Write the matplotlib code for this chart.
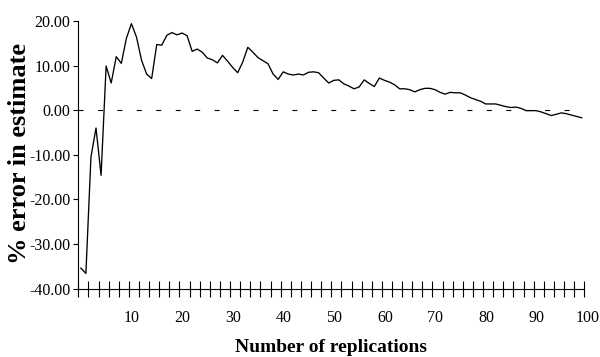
import matplotlib
matplotlib.use('Agg')
import matplotlib.pyplot as plt #visualização de dados
import matplotlib.transforms as transforms
import numpy as np

# dados
replicacoes = list(range(1, 101))
erro_percentual = [
    -35.4, -36.6, -10.5, -4.0, -14.6, 9.9, 6.1, 12.0, 10.5, 16.1,
    19.4, 16.4, 11.2, 8.1, 7.1, 14.7, 14.6, 16.8, 17.4, 16.9,
    17.3, 16.7, 13.2, 13.7, 13.0, 11.7, 11.3, 10.6, 12.3, 11.0,
    9.6, 8.4, 10.8, 14.1, 13.0, 11.8, 11.1, 10.4, 8.1, 6.9,
    8.6, 8.1, 7.9, 8.1, 7.9, 8.5, 8.6, 8.4, 7.2, 6.1,
    6.7, 6.8, 5.9, 5.4, 4.8, 5.2, 6.8, 6.0, 5.3, 7.2,
    6.7, 6.3, 5.7, 4.8, 4.8, 4.6, 4.1, 4.6, 4.9, 4.9,
    4.6, 4.0, 3.6, 4.0, 3.9, 3.9, 3.4, 2.8, 2.4, 2.0,
    1.4, 1.4, 1.4, 1.1, 0.8, 0.6, 0.7, 0.4, -0.1, -0.1,
    -0.1, -0.4, -0.8, -1.2, -0.9, -0.6, -0.8, -1.1, -1.4, -1.7,
]
rotulos_x = [10, 20, 30, 40, 50, 60, 70, 80, 90, 100]
marcas_x = list(range(0, 101, 2))
ticks_y = [-40, -30, -20, -10, 0, 10, 20]


def criar_grafico(nome_arquivo='out.png'):
    plt.rcParams['font.family'] = ['Liberation Serif', 'DejaVu Serif']
    plt.rcParams['lines.scale_dashes'] = False

    fig = plt.figure(figsize=(6, 3.57), dpi=100)
    ax = fig.add_axes([0.1305, 0.1916, 0.8433, 0.7496])

    # cada replicação fica no meio do intervalo entre as marcas
    x = np.array(replicacoes) - 0.5
    ax.plot(x, erro_percentual, color='black', linewidth=0.95)
    ax.axhline(0, color='black', linewidth=0.8, linestyle=(0, (3.6, 10.4)))

    ax.set_xlim(0, 100)
    ax.set_ylim(-40, 20)

    for lado in ['top', 'right']:
        ax.spines[lado].set_visible(False)
    for lado in ['left', 'bottom']:
        ax.spines[lado].set_linewidth(0.8)

    # eixo x: marcas cruzando o eixo a cada 2, rótulos a cada 10
    ax.set_xticks(marcas_x, minor=True)
    ax.set_xticks(rotulos_x)
    ax.set_xticklabels([str(v) for v in rotulos_x], fontsize=11.5)
    ax.tick_params(axis='x', which='both', direction='inout', length=12.2, width=0.8, pad=9.3)
    deslocamento = transforms.ScaledTranslation(0.03, 0, fig.dpi_scale_trans)
    for rotulo in ax.get_xticklabels():
        rotulo.set_transform(rotulo.get_transform() + deslocamento)

    # eixo y
    ax.set_yticks(ticks_y)
    ax.set_yticklabels([f'{v:.2f}' for v in ticks_y], fontsize=11.5)
    ax.tick_params(axis='y', direction='out', length=3.6, width=0.8, pad=2)

    fig.text(331 / 600, 1 - 352 / 357, 'Number of replications', ha='center', va='baseline',
             fontsize=14, fontweight='bold')
    fig.text(20 / 600, 1 - 153 / 357, '% error in estimate', ha='center', va='center',
             rotation=90, fontsize=19, fontweight='bold')

    fig.savefig(nome_arquivo, dpi=100)
    plt.close(fig)
    return nome_arquivo


if __name__ == '__main__':
    criar_grafico()
